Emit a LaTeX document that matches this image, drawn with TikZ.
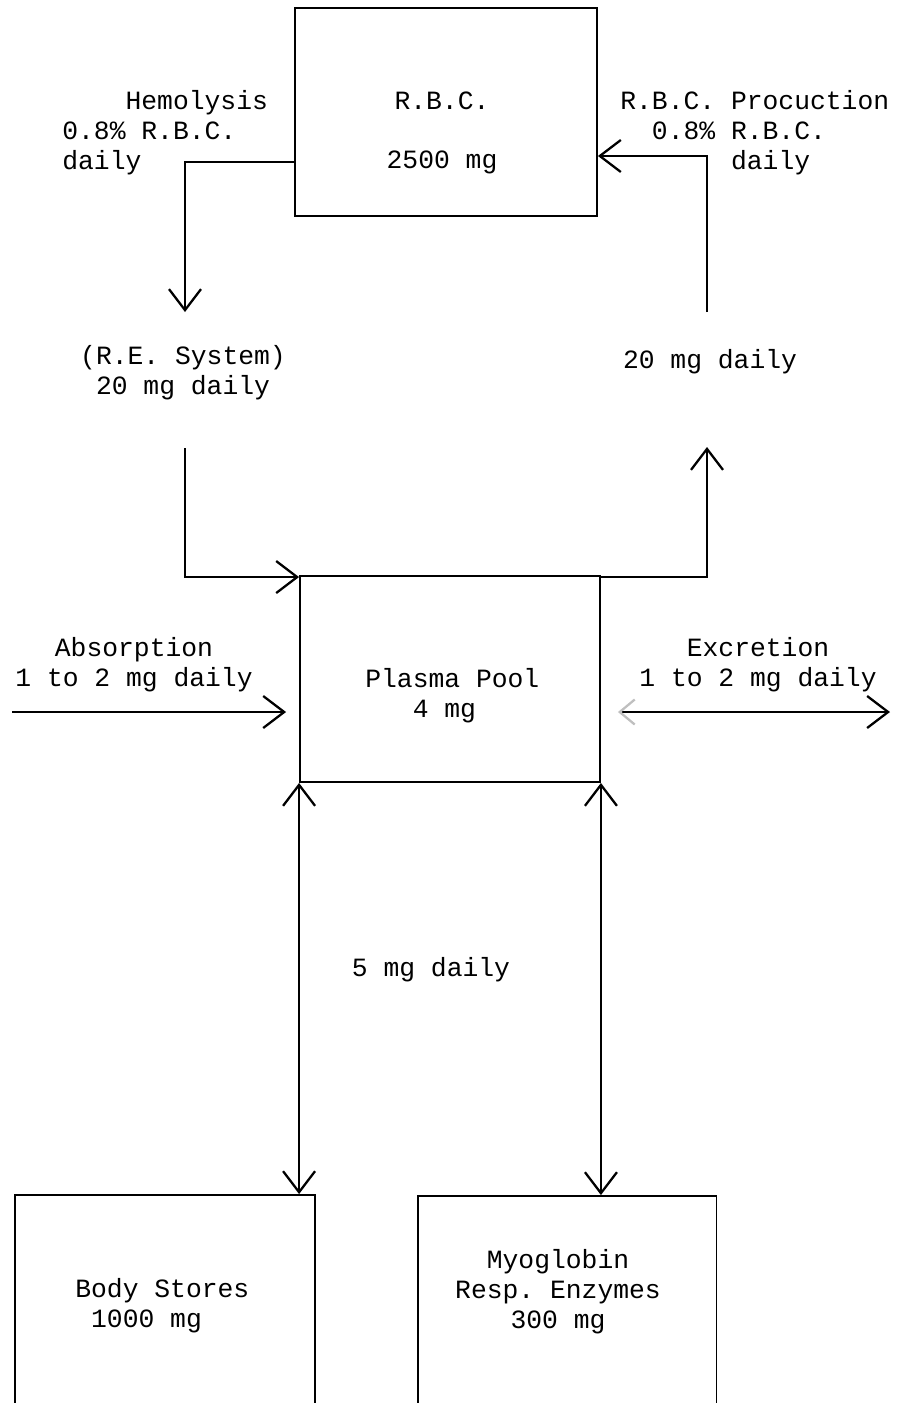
\documentclass[tikz,border=0pt]{standalone}
\usepackage{fontspec}
\setmonofont{Liberation Mono}
\usetikzlibrary{arrows.meta, calc, positioning}
\tikzset{
  % scatola di un compartimento
  box/.style={draw=black, line width=1.1pt, minimum width=6cm, minimum height=4.16cm,
    inner sep=0pt},
  % testo dattiloscritto
  lbl/.style={font=\ttfamily\fontsize{15}{17}\selectfont, align=center, inner sep=0pt},
  % flussi di ferro
  flow/.style={line width=1.3pt, -{Straight Barb[length=0.42cm, width=0.64cm]}},
  flowboth/.style={line width=1.3pt,
    {Straight Barb[length=0.42cm, width=0.64cm]}-{Straight Barb[length=0.42cm, width=0.64cm]}},
}

\begin{document}
\begin{tikzpicture}[x=0.02cm, y=-0.02cm]
  \useasboundingbox (0,0) rectangle (898,1403);
  \clip (0,0) rectangle (898,1403);
  % compartimenti
  \node[box, minimum width=6.04cm] (rbc) at (446,112) {};
  \node[box, minimum height=4.12cm] (pool) at (450,679) {};
  \node[box, minimum height=4.4cm] (stores) at (165,1305) {};
  \node[box, minimum width=5.98cm, minimum height=4.4cm] (myo) at (567,1306) {};
  % testi
  \node[lbl] (rbctxt) at (442,133) {R.B.C.\\[17pt]2500 mg};
  \node[lbl, anchor=west, align=left] (hemotxt) at (62,133) {\phantom{0000}Hemolysis\\0.8\% R.B.C.\\daily};
  \node[lbl, anchor=west, align=left] (prodtxt) at (620,133) {R.B.C. Procuction\\\phantom{00}0.8\% R.B.C.\\\phantom{0000000}daily};
  \node[lbl] (retxt) at (183,373) {(R.E. System)\\20 mg daily};
  \node[lbl] (uptxt) at (710,362) {20 mg daily};
  \node[lbl] (abstxt) at (134,665) {Absorption\\1 to 2 mg daily};
  \node[lbl] (exctxt) at (758,665) {Excretion\\1 to 2 mg daily};
  \node[lbl, anchor=west, align=left] (pooltxt) at (365,696) {Plasma Pool\\\phantom{000}4 mg};
  \node[lbl] (dailytxt) at (431,970) {5 mg daily};
  \node[lbl, anchor=west, align=left] (storestxt) at (75,1306) {Body Stores\\\phantom{0}1000 mg};
  \node[lbl] (myotxt) at (558,1292) {Myoglobin\\Resp. Enzymes\\300 mg};
  % estremi liberi dei flussi
  \coordinate (hemo) at (185,312);
  \coordinate (prod) at (707,312);
  \coordinate (re) at (185,448);
  \coordinate (up) at (707,447);
  \coordinate (absin) at (12,712);
  \coordinate (excout) at (890,712);
  % flussi
  \draw[flow] ([yshift=-1cm]rbc.west) -| (hemo);
  \draw[flow] (prod) |- ([yshift=-0.88cm]rbc.east);
  \draw[flow] (re) |- ([yshift=-0.04cm]pool.north west);
  \draw[flow] ([yshift=-0.04cm]pool.north east) -| (up);
  \draw[flow, shorten >=0.26cm] (absin) -- (absin -| pool.west);
  \draw[line width=1.3pt, shorten <=0.34cm,
    {Straight Barb[color=black!25, length=0.3cm, width=0.5cm]}-{Straight Barb[length=0.42cm, width=0.64cm]}]
    (pool.east |- excout) -- (excout);
  \draw[flowboth] (pool.south west) -- (pool.south west |- stores.north);
  \draw[flowboth] (pool.south east) -- (pool.south east |- myo.north);
\end{tikzpicture}
\end{document}
